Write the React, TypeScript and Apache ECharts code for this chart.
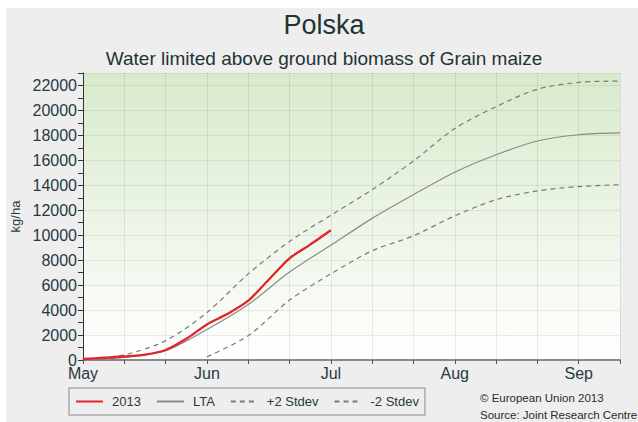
import React, { useEffect, useRef } from 'react';
import * as echarts from 'echarts';

// x positions are dekads counted from 1 May (0 = May 1, 3 = Jun 1, ...)
const monthLabels = ['May', 'Jun', 'Jul', 'Aug', 'Sep'];
const monthDekads = [0, 3, 6, 9, 12];

const dekads = [0, 1, 2, 3, 4, 5, 6, 7, 8, 9, 10, 11, 12, 13];
const ltaValues = [50, 200, 750, 2450, 4450, 7050, 9200, 11350, 13250, 15050, 16450, 17550, 18050, 18200];
const plusStdevValues = [50, 420, 1550, 3800, 6900, 9500, 11600, 13650, 15950, 18550, 20300, 21700, 22250, 22350];
const minusStdevValues = [0, 0, null, 250, 1950, 4800, 6900, 8750, 9950, 11550, 12850, 13550, 13900, 14050];

const dekads2013 = [0, 0.5, 1, 1.5, 2, 2.5, 3, 3.5, 4, 4.5, 5, 5.5, 6];
const values2013 = [80, 180, 280, 430, 800, 1700, 2850, 3700, 4750, 6450, 8150, 9250, 10400];

const FONT = '"Liberation Sans", Arial, Helvetica, sans-serif';
const TEXT = '#263a40';

const pair = (xs: number[], ys: (number | null)[]) => xs.map((x, i) => [x, ys[i]]);

export default function App() {
  const ref = useRef<HTMLDivElement>(null);
  useEffect(() => {
    document.body.style.margin = '0';
    const chart = echarts.init(ref.current!, null, { renderer: 'svg' });
    chart.setOption({
      animation: false,
      backgroundColor: 'transparent',
      textStyle: { fontFamily: FONT },
      graphic: [
        { type: 'text', x: 324, y: 25, style: { text: 'Polska', font: `27px ${FONT}`, fill: '#1f3434', align: 'center', verticalAlign: 'middle' } },
        { type: 'text', x: 324, y: 58, style: { text: 'Water limited above ground biomass of Grain maize', font: `19px ${FONT}`, fill: '#1f3434', align: 'center', verticalAlign: 'middle' } },
        { type: 'text', x: 480, y: 398, style: { text: '© European Union 2013', font: `11.5px ${FONT}`, fill: '#2a2a2a', align: 'left', verticalAlign: 'middle' } },
        { type: 'text', x: 480, y: 415, style: { text: 'Source: Joint Research Centre', font: `11.5px ${FONT}`, fill: '#2a2a2a', align: 'left', verticalAlign: 'middle' } },
      ],
      grid: {
        left: 83, right: 18, top: 73, bottom: 62,
        show: true, borderWidth: 0,
        backgroundColor: new echarts.graphic.LinearGradient(0, 0, 0, 1, [
          { offset: 0, color: '#d8eacb' },
          { offset: 1, color: '#ffffff' },
        ]),
      },
      legend: {
        left: 69, top: 388,
        orient: 'horizontal',
        padding: [7, 6, 7, 6],
        itemGap: 15,
        itemWidth: 27,
        itemHeight: 14,
        borderColor: '#aaaaaa',
        borderWidth: 1.5,
        itemStyle: { opacity: 0 },
        textStyle: { fontSize: 13, color: TEXT, fontFamily: FONT, padding: [0, 0, 0, 4] },
        data: ['2013', 'LTA', '+2 Stdev', '-2 Stdev'],
      },
      xAxis: {
        type: 'value',
        min: 0, max: 13, interval: 1,
        axisLine: { show: true, onZero: false, lineStyle: { color: '#8a8a8a', width: 2 } },
        axisTick: { show: true, length: 4, lineStyle: { color: '#555' } },
        axisLabel: {
          fontSize: 16, color: TEXT, margin: 5, fontFamily: FONT,
          formatter: (v: number) => {
            const i = monthDekads.indexOf(Math.round(v));
            return i >= 0 && Math.abs(v - monthDekads[i]) < 1e-6 ? monthLabels[i] : '';
          },
        },
        splitLine: { show: true, lineStyle: { color: 'rgba(0,0,0,0.08)', width: 1 } },
      },
      yAxis: [
        {
          type: 'value',
          min: 0, max: 23000, interval: 1000,
          name: 'kg/ha', nameLocation: 'middle', nameGap: 51, nameRotate: 90,
          nameTextStyle: { fontSize: 13, color: TEXT, fontFamily: FONT },
          axisLine: { show: true, lineStyle: { color: '#333', width: 1 } },
          axisTick: { show: true, length: 5, lineStyle: { color: '#333' } },
          axisLabel: {
            fontSize: 16, color: TEXT, margin: 6, fontFamily: FONT,
            formatter: (v: number) => (v % 2000 === 0 && v <= 22000 ? String(v) : ''),
          },
          splitLine: { show: false },
        },
        {
          type: 'value',
          min: 0, max: 23000, interval: 2000,
          position: 'left',
          axisLine: { show: false },
          axisTick: { show: false },
          axisLabel: { show: false },
          splitLine: { show: true, lineStyle: { color: 'rgba(0,0,0,0.07)', width: 1 } },
        },
      ],
      series: [
        {
          name: '-2 Stdev', type: 'line', yAxisIndex: 0, symbol: 'none', smooth: 0.3,
          data: pair(dekads, minusStdevValues),
          lineStyle: { color: '#7a7a7a', width: 1.2, type: [5, 4] },
          itemStyle: { color: '#7a7a7a' },
        },
        {
          name: '+2 Stdev', type: 'line', yAxisIndex: 0, symbol: 'none', smooth: 0.3,
          data: pair(dekads, plusStdevValues),
          lineStyle: { color: '#7a7a7a', width: 1.2, type: [5, 4] },
          itemStyle: { color: '#7a7a7a' },
        },
        {
          name: 'LTA', type: 'line', yAxisIndex: 0, symbol: 'none', smooth: 0.3,
          data: pair(dekads, ltaValues),
          lineStyle: { color: '#8a8a8a', width: 1.2 },
          itemStyle: { color: '#8a8a8a' },
        },
        {
          name: '2013', type: 'line', yAxisIndex: 0, symbol: 'none', smooth: 0.3,
          data: pair(dekads2013, values2013),
          lineStyle: { color: '#e2242b', width: 2.3 },
          itemStyle: { color: '#e2242b' },
        },
      ],
    });
    return () => chart.dispose();
  }, []);
  return (
    <div style={{ position: 'relative', width: 638, height: 422, background: '#ffffff', overflow: 'hidden' }}>
      <div style={{ position: 'absolute', left: 6, top: 8, right: 0, bottom: 0, background: '#eeeeee' }} />
      <div ref={ref} style={{ position: 'absolute', left: 0, top: 0, width: 638, height: 422 }} />
    </div>
  );
}
